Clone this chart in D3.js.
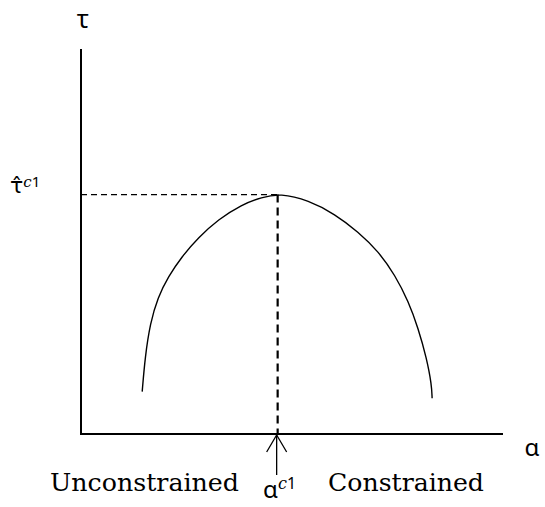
<!DOCTYPE html>
<html><head><meta charset="utf-8">
<script src="https://cdn.jsdelivr.net/npm/d3@7"></script>
<style>body{margin:0;background:#fff}svg{display:block}</style>
</head><body>
<script>
// Data
const curveAlpha = [14.5, 15.2, 16.4, 18.2, 20.7, 23.9, 27.8, 32.5, 38.1, 42.8, 47.2, 53.9, 60.2, 65.7, 70.5, 74.4, 77.6, 79.9, 81.9, 83.1, 83.2];
const curveTau   = [11.0, 20.1, 28.8, 35.5, 40.9, 46.1, 51.0, 55.7, 59.6, 61.5, 62.5, 60.7, 57.1, 52.5, 47.4, 41.3, 34.4, 27.5, 19.7, 12.7, 9.3];
const alphaC1 = 46.6;
const tauHat = 62.2;
const regionLabels = ["Unconstrained", "Constrained"];

const W = 545, H = 507;
const svg = d3.select("body").append("svg").attr("width", W).attr("height", H);
const x = d3.scaleLinear().domain([0, 100]).range([81, 503]);
const y = d3.scaleLinear().domain([0, 100]).range([434, 49]);

// axes
svg.append("line").attr("x1", x(0)).attr("x2", x(0)).attr("y1", y(100)).attr("y2", y(0))
  .attr("stroke", "#000").attr("stroke-width", 2);
svg.append("line").attr("x1", x(0) - 1).attr("x2", x(100)).attr("y1", y(0)).attr("y2", y(0))
  .attr("stroke", "#000").attr("stroke-width", 2);

// dashed guides
svg.append("line").attr("x1", x(0)).attr("x2", x(alphaC1)).attr("y1", y(tauHat)).attr("y2", y(tauHat))
  .attr("stroke", "#000").attr("stroke-width", 1.3).attr("stroke-dasharray", "6,4");
svg.append("line").attr("x1", x(alphaC1)).attr("x2", x(alphaC1)).attr("y1", y(tauHat)).attr("y2", y(0))
  .attr("stroke", "#000").attr("stroke-width", 2.2).attr("stroke-dasharray", "8,5");

// curve
const pts = curveAlpha.map((a, i) => [a, curveTau[i]]);
svg.append("path").datum(pts)
  .attr("d", d3.line().x(d => x(d[0])).y(d => y(d[1])).curve(d3.curveBasis))
  .attr("fill", "none").attr("stroke", "#000").attr("stroke-width", 1.4);

// arrow
const ax = x(alphaC1) - 1, ay = y(0) + 1;
svg.append("line").attr("x1", ax).attr("x2", ax).attr("y1", ay).attr("y2", ay + 40)
  .attr("stroke", "#000").attr("stroke-width", 1.3);
svg.append("path").attr("d", `M${ax - 10},${ay + 17}L${ax},${ay}L${ax + 10},${ay + 17}`)
  .attr("fill", "none").attr("stroke", "#000").attr("stroke-width", 1.3);

const serif = "'DejaVu Serif', serif";
const greek = "'Noto Sans', 'DejaVu Sans', sans-serif";

// axis labels
svg.append("text").attr("x", 83).attr("y", 28).attr("text-anchor", "middle")
  .style("font-family", greek).style("font-size", "25px").text("τ");
svg.append("text").attr("x", 532).attr("y", 456).attr("text-anchor", "middle")
  .style("font-family", greek).style("font-size", "24px").text("α");

// tau hat label
const th = svg.append("text").attr("x", 10).attr("y", 193).style("font-family", "'DejaVu Sans', sans-serif").style("font-size", "22px");
th.append("tspan").text("τ\u0302");
th.append("tspan").attr("dy", -6).style("font-size", "15px").style("font-family", serif).style("font-style", "italic").text("c");
th.append("tspan").style("font-size", "15px").style("font-family", greek).text("1");

// alpha c1 label
const ac = svg.append("text").attr("x", 263).attr("y", 498).style("font-family", greek).style("font-size", "24px");
ac.append("tspan").text("α");
ac.append("tspan").attr("dy", -9).style("font-size", "16px").style("font-family", serif).style("font-style", "italic").text("c");
ac.append("tspan").style("font-size", "16px").style("font-family", greek).text("1");

// region labels
svg.append("text").attr("x", 50).attr("y", 491).attr("textLength", 189).attr("lengthAdjust", "spacingAndGlyphs")
  .style("font-family", serif).style("font-size", "25px").text(regionLabels[0]);
svg.append("text").attr("x", 328).attr("y", 491).attr("textLength", 156).attr("lengthAdjust", "spacingAndGlyphs")
  .style("font-family", serif).style("font-size", "25px").text(regionLabels[1]);
</script>
</body></html>
